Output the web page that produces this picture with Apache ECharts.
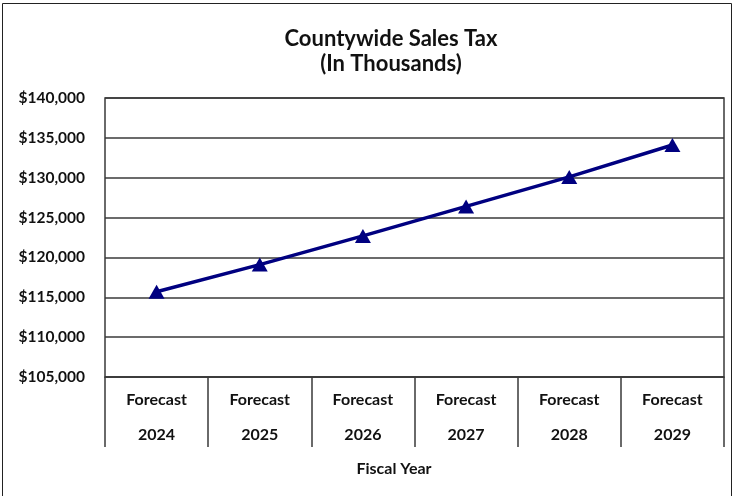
<!DOCTYPE html>
<html>
<head>
<meta charset="utf-8">
<script src="https://cdn.jsdelivr.net/npm/echarts@6/dist/echarts.min.js"></script>
<style>
    html, body { margin: 0; padding: 0; background: #fff; }
    #chart { width: 734px; height: 496px; }
</style>
</head>
<body>
<div id="chart"></div>
<script>
    // data
    var years = ['2024', '2025', '2026', '2027', '2028', '2029'];
    var salesTax = [115700, 119100, 122700, 126400, 130100, 134100];
    var yMin = 105000, yMax = 140000, yStep = 5000;

    var font = 'Lato, "Open Sans", sans-serif';
    var chart = echarts.init(document.getElementById('chart'));

    var option = {
        backgroundColor: '#fff',
        animation: false,
        title: {
            text: 'Countywide Sales Tax\n(In Thousands)',
            left: 386,
            top: 21,
            textAlign: 'center',
            textStyle: {
                fontFamily: font,
                fontSize: 22,
                fontWeight: 'bold',
                color: '#111',
                lineHeight: 25
            }
        },
        graphic: [
            {
                type: 'rect',
                shape: { x: 2.5, y: 3.5, width: 729, height: 500 },
                style: { fill: null, stroke: '#222', lineWidth: 1 },
                silent: true
            },
            {
                type: 'text',
                x: 394,
                y: 469,
                style: {
                    text: 'Fiscal Year',
                    font: 'bold 16px ' + font,
                    fill: '#111',
                    textAlign: 'center',
                    textVerticalAlign: 'middle'
                }
            }
        ],
        grid: {
            left: 105,
            right: 10,
            top: 98,
            bottom: 119,
            show: true,
            borderColor: '#3a3a3a',
            borderWidth: 1.5
        },
        xAxis: {
            type: 'category',
            data: years,
            boundaryGap: true,
            axisLine: { lineStyle: { color: '#3a3a3a', width: 1.5 } },
            axisTick: { show: true, interval: 0, length: 70, lineStyle: { color: '#3a3a3a', width: 1.5 } },
            axisLabel: {
                interval: 0,
                margin: 5,
                formatter: function (v) { return 'Forecast\n' + v; },
                fontFamily: font,
                fontSize: 16,
                fontWeight: 'bold',
                color: '#111',
                lineHeight: 35
            }
        },
        yAxis: {
            type: 'value',
            min: yMin,
            max: yMax,
            interval: yStep,
            axisLine: { show: false },
            axisTick: { show: false },
            splitLine: { lineStyle: { color: '#3a3a3a', width: 1.5 } },
            axisLabel: {
                margin: 20,
                formatter: function (v) { return '$' + v.toLocaleString('en-US'); },
                fontFamily: font,
                fontSize: 15.5,
                fontWeight: 'bold',
                color: '#111'
            }
        },
        series: [{
            name: 'Countywide Sales Tax',
            type: 'line',
            data: salesTax,
            symbol: 'triangle',
            symbolSize: [16, 14],
            lineStyle: { color: '#000080', width: 3.5 },
            itemStyle: { color: '#000080' }
        }]
    };
    chart.setOption(option);
</script>
</body>
</html>
